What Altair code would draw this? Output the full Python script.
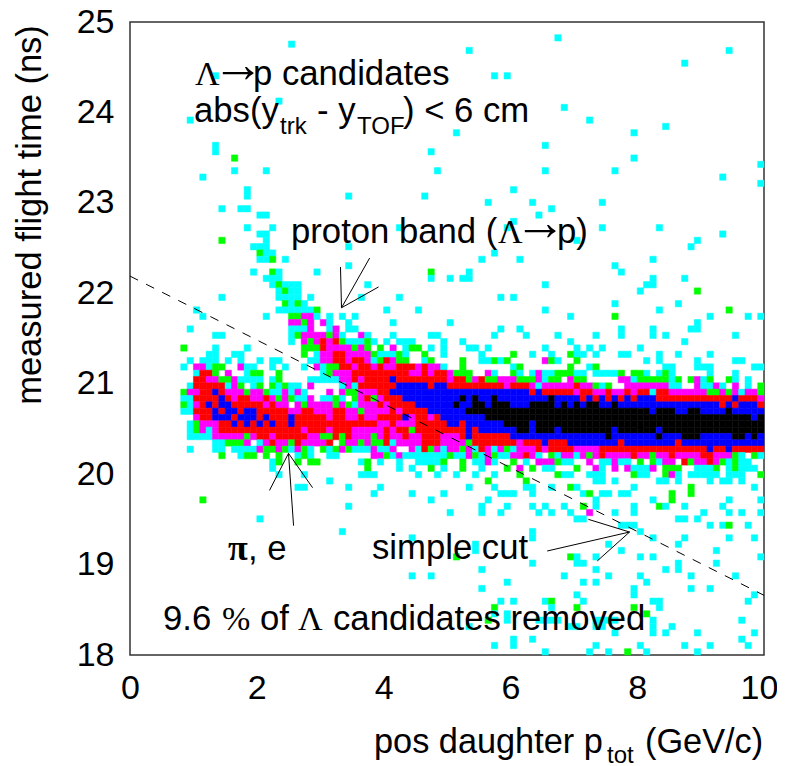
import altair as alt
import pandas as pd

ROWS = {
2:"67c",3:"25c",4:"53c 94c",6:"87c",8:"13c 57c 59c",12:"23c",13:"68c",15:"9c 72c",16:"84c",17:"51c 79c",
19:"13c 65c",20:"13c 47c",21:"16g 79c",22:"99c",23:"16c 21c 48c 65c 76c",24:"11c 93c",25:"99c",26:"18c 60c",
27:"18c 34c 46c",28:"56c 63c 74c",29:"14c 17-18c 66c",30:"20-21c 64c",31:"60c",32:"18c 22c 42c 59c 74c 83c",
33:"20-21c 93c",34:"14g 21c 70c 89c",35:"19-21c 34c 88c",36:"20g 21-22c 57c",37:"20-21c 22g 24c 55c 61c 82c",
38:"34c 76c",39:"19c 22g 23c 29c 47g 53c 77c",40:"21-23c 47c 50c 52-53c 82c 87c",41:"22c 23g 24-26c 37c 65c 81-82c",
42:"23c 24g 25-26c 80c 89g",43:"14c 23-26c 28c 36c 42c 58c 60c",44:"24g 25c 26g 27c 76c 86c",
45:"10c 23-28c 29g 40c 45c 65c 83c 94g",46:"11c 21c 25-26g 27-28m 29c 31c 33c 35c 69c 76g 91c 97c 99c",
47:"25-26m 27g 28m 30m 31c 34c 41c 50c 89c",48:"9c 25-27c 28m 31c 32m 34-35c 58c 61c 77c 82c 88-89c",
49:"13-14c 25c 26g 27-30m 31g 32m 33c 36m 37c 41c 47-48c 57c 62c 67c 73c 77c 82c 84c 95c",
50:"25c 27m 28g 29m 30r 31m 32r 33g 34-36c 37g 38c 40c 42-44c 49c 52c 69c 87c",
51:"8g 13c 18c 27-29g 30r 31-34m 35g 36m 37g 39g 41m 43c 44-45g 47c 49c 53-54c 56c 65c 70c 72c 74c 80c",
52:"12-13c 16-17c 27g 29c 30-31m 32-33r 34-37m 38g 39-41c 42g 43c 46g 49c 55c 60g 63c 66c 69g 70-71c 73c 77-78c 83c 86c 91c",
53:"9c 11-13c 15c 17c 20c 22-23c 28-29c 30-31m 32-33r 34m 35-36r 37m 38c 39g 40r 41m 42-43g 46c 47g 52g 55-56c 57g 58c 59g 65m 66g 67c 70g 81c 83c 89c 95-96c",
54:"8c 10-11m 12c 13-14g 17m 18-19c 22c 24c 27c 29m 30c 31-32g 33-34r 35m 36-37r 38m 39r 40-41m 42-44r 45m 46r 47-48m 49c 52g 60c 61g 69g 72c 73g 84-85c 89-91c 98-99c",
55:"10c 11-12r 13g 15m 18c 19-20g 23g 30c 31g 32-34m 35-43r 44-45m 46r 47m 48-49r 50m 51-53g 56m 57c 60g 61c 63c 64m 65-66c 67-69g 70-71c 73-76c 77g 79-80g 81c 83c 84g 85c 91c 95c",
56:"10-11r 12-13m 14-15g 16m 17-20c 22c 23g 28-32c 33-34m 35r 36m 37-40r 41b 42-49r 50m 51-52r 53g 54m 55r 56-57g 58-60m 61-63g 64m 65c 66-67g 69m 70-71g 77-78m 79c 80-84g 85c 86g 88g 89m 90c 91g 94g 95c 97c",
57:"9c 10-14r 15c 16m 17g 19c 20g 22g 23c 24g 25-26c 28m 33c 34m 35c 36-41r 42-46b 47r 48-49b 50-58r 59m 60-62r 63m 64c 65-69m 70r 71-72m 73g 74c 75g 78-84m 85-86c 89m 90-91c 92m 93c 95m 97c 99g",
58:"8g 9-10m 11-12r 13b 14r 15-17m 18g 19-20m 21g 22-23c 24m 25c 26m 27c 31m 33m 34-35g 36-38m 39-40r 41-62b 63r 64b 65-69r 70m 71-72r 73-74m 75r 76-77m 78r 79m 80-81r 82c 83-84r 85-90m 91-92g 93m 94g 95m 96c 97-98m 99g",
59:"8-9c 10-13r 14b 15r 16m 17-18r 19-20m 21r 22m 23g 24m 25g 26-27c 28m 30-31c 32g 33c 35g 36m 37r 38g 39m 40-42r 43-51b 52k 53b 54k 55-56b 57k 58-65b 66k 67-70b 71r 72b 73r 74b 75r 76b 77r 78b 79r 80-82b 83-94r 95b 96-98r 99m",
60:"8g 9c 10m 11r 12b 13r 14-15b 16-20r 21m 22r 23-24m 26m 27g 28-31m 32g 33m 34g 35c 36-38m 39r 40m 41-44r 45-50b 51k 52-53b 54-55k 56b 57-59k 60-62b 63-66k 67b 68k 69b 70k 71b 72-73k 74-75b 76k 77-92b 93r 94b 95r 96-98b 99r",
61:"8-9c 10-12r 13b 14r 15-16b 17r 18-19b 20-24r 25-26m 27-28r 29-31m 32-33r 34-35m 36g 37-40m 41r 42m 43-46r 47-52b 53-81k 82b 83-85k 86-87b 88-89k 90-93b 94k 95-99b",
62:"10m 11-12r 13-15b 16r 17-19b 20r 21b 22-24r 25b 26-30r 31m 32-33r 34-35m 36r 37-38m 39-42r 43b 44m 45-46r 47m 48r 49-55b 56-97k 98b 99k",
63:"9c 10g 11-13m 14-15r 16b 17r 18b 19r 20b 21r 22b 23-24r 25b 26-38r 39-40m 41r 42-44m 45-49r 50-51b 52r 53-58b 59-62k 63b 64-99k",
64:"9c 10g 11m 12c 13m 14-26r 27m 28-30r 31m 32-34r 35-39m 40r 41m 42-43r 44g 45-52r 53b 54r 55-60b 61-62k 63b 64-66k 67b 68-75k 76b 77-82k 83b 84-99k",
65:"9-12c 13-17m 18g 19m 20-21r 22m 23-27r 28-29m 30-31g 32r 33g 34r 35-37m 38g 39m 40r 41-42m 43r 44-45m 46-48r 49-51m 52r 53b 54-59r 60-74b 75k 76-82b 83k 84-86b 87-89k 90-94b 95-96k 97b 98k 99b",
66:"13-14c 15-17g 18m 20c 21m 22r 23-24m 25g 26r 27-30m 31r 33g 34-35m 36g 37m 38-39g 40r 41c 42-45m 46-48r 49-52m 53g 54-60r 61m 62-64r 65b 66-68r 69-76b 77r 78-85b 86r 87-99b",
67:"9c 13-14c 16-19c 20m 21-22g 23m 24g 25c 26m 27g 28c 30g 31c 32g 33m 34g 35-37c 38m 39-40c 41m 44m 45c 46r 47g 48m 49c 50-51m 52g 53m 54c 55r 56m 57c 58m 59g 60c 61-63m 64r 65m 66-69r 70-73m 74-90r 91b 92-93r 94b 95-99r",
68:"14g 17c 18-19g 21g 23g 26c 27g 28c 31-32c 38-39m 40g 41c 42m 43-49c 50g 51-52c 53m 54g 55c 56m 57g 58-59c 60-61m 62r 63m 64c 66g 67c 68-69m 70c 71m 72g 73m 74r 75-78m 79r 80-81m 82g 83-84m 85r 86-89m 90-91r 92-94m 95g 96c 98g 99c",
69:"22c 23g 26g 28-29g 36c 37g 39c 42c 45-48c 49g 52g 54-55c 56m 57c 60g 62c 64-66m 67g 68-69c 72m 74-75c 76m 77-78c 80g 82g 83c 84-85m 87r 88g 89-90m 91r 92m 93g 94c 95g 96-97c",
70:"22c 37g 42c 44c 47g 49c 52g 55c 59g 61m 63g 65-66c 70g 73m 74c 76m 78m 79-81c 82m 84-86g 89-91c 92g 94c 95g 96-98c",
71:"23c 27c 36-38c 45c 48c 51c 54c 57c 61g 67g 68-69c 72-74c 79g 80-81c 84g 85m 86c 88-92c 94-96c 99g",
72:"31c 56g 62g 73-74c 76c 83-84c 86c 91c 93-94c 96c",
73:"26-27c 34c 39c 53c 57c 62-63c 66c 69g 70c 79c 88g 98c",
74:"38c 44c 49c 58-60c 63c 71c 72g 74-75c 77-78c 85g 88g",
75:"11g 47c 56c 73c 82c 85g 94c 99c",
76:"34c 55c 59c 63c 65c 68c 71g 73c 79c 83g 84c 87c 93c",
77:"50c 55c 58c 64c 66c 69c 72m 76c 79c 90c 94c 96c 99c",
78:"20c 70-71c 86-87c 89c",79:"77-79c 91c 93c 94g 97c",80:"33c 63c 80c",81:"44c 63c 82c 87c 94c 98c",
82:"54c 75c 86c",83:"54c 77c 92c",84:"51g 69g 70c 73c 80c 82c 99c",85:"63c 70-71c 86c 92c",
86:"55c 73c 84c 86c",87:"44c 47c 68c 75c 80c 88c 95c",88:"59c 71c 73c 81c",89:"55c 79c 88c 91c",
90:"70c 79c 98c",91:"58c 60c 65c 66g 71c 82-83c 97c",92:"57g 66c 70g 79g 83c",93:"57c 59c 81g",
94:"56g 59c 64-67c 73-76c 82c 96c",95:"53c 69-70c 73-74c 82c 85c",96:"76c 82c 84c 89c 98c",97:"60c 63c 96c",
98:"57c 60c 73c 80c 87c 91c 97c",99:"65c 72c 75c 78g 81c 89c",
}
LEVELS = ["c", "g", "m", "r", "b", "k"]
COLORS = ["#00ffff", "#00ff00", "#ff00ff", "#ff0000", "#0000ff", "#000000"]
XBIN, YBIN, YTOP = 0.1, 0.07, 25.0

cells = []
for row, spec in ROWS.items():
    for tok in spec.split():
        lev, rng = tok[-1], tok[:-1].split("-")
        for col in range(int(rng[0]), int(rng[-1]) + 1):
            cells.append(dict(x0=col * XBIN, x1=(col + 1) * XBIN,
                              y1=YTOP - row * YBIN, y0=YTOP - (row + 1) * YBIN, level=lev))
cells = pd.DataFrame(cells)

W, H = 634, 633
xs = alt.Scale(domain=[0, 10], nice=False, zero=False)
ys = alt.Scale(domain=[18, 25], nice=False, zero=False)
lev_scale = alt.Scale(domain=LEVELS, range=COLORS)

heat = alt.Chart(cells).mark_rect(strokeWidth=0.5).encode(
    x=alt.X("x0:Q", scale=xs, title=None,
            axis=alt.Axis(values=[0, 2, 4, 6, 8, 10], ticks=False, domain=False, grid=False,
                          labelFontSize=34, labelFont="Liberation Sans", labelColor="black",
                          labelPadding=16, labelFlush=False, labelOverlap=False, format="d",
                          labelOffset={"condition": {"test": "datum.value == 10", "value": -5}, "value": 0})),
    x2="x1:Q",
    y=alt.Y("y0:Q", scale=ys, title=None,
            axis=alt.Axis(values=list(range(18, 26)), ticks=False, domain=False, grid=False,
                          labelFontSize=34, labelFont="Liberation Sans", labelColor="black",
                          labelPadding=16, labelFlush=False, labelOverlap=False, format="d")),
    y2="y1:Q",
    color=alt.Color("level:N", scale=lev_scale, legend=None),
    stroke=alt.Stroke("level:N", scale=lev_scale, legend=None),
)

cut = alt.Chart(pd.DataFrame({"x": [0, 10], "y": [22.19, 18.66]})).mark_line(
    color="black", strokeWidth=1, strokeDash=[9, 9]).encode(
    x=alt.X("x:Q", scale=xs), y=alt.Y("y:Q", scale=ys))

arrows = pd.DataFrame([
    (3.336, 21.84, 3.32, 22.29), (3.336, 21.84, 3.78, 22.39), (3.336, 21.84, 3.92, 22.07),
    (2.50, 20.23, 2.20, 19.82), (2.50, 20.23, 2.58, 19.43), (2.50, 20.23, 2.88, 19.85),
    (7.88, 19.36, 6.58, 19.15), (7.88, 19.36, 7.23, 19.50), (7.88, 19.36, 7.37, 19.04),
], columns=["xa", "ya", "xb", "yb"])
arrow_marks = alt.Chart(arrows).mark_rule(color="black", strokeWidth=1).encode(
    x=alt.X("xa:Q", scale=xs), y=alt.Y("ya:Q", scale=ys), x2="xb:Q", y2="yb:Q")

SANS = "Liberation Sans"
SERIF = "Liberation Serif"
LEFT = 130
TOP = 22
# text, page x, page y of baseline, size, font, weight
TEXTS = [
    ("\u039b", 195, 85, 34, SERIF, "normal"), ("\u2192", 212, 82, 52, SERIF, "normal"),
    ("p candidates", 253, 85, 34.7, SANS, "normal"),
    ("abs(y", 194, 122, 34.7, SANS, "normal"), ("trk", 280, 134, 24, SANS, "normal"),
    ("- y", 317, 122, 34.7, SANS, "normal"),
    ("TOF", 357, 134, 24, SANS, "normal"), (") < 6 cm", 403, 122, 34.7, SANS, "normal"),
    ("proton band (", 291, 243, 34.7, SANS, "normal"), ("\u039b", 498, 243, 34, SERIF, "normal"),
    ("\u2192", 514, 240, 52, SERIF, "normal"), ("p)", 557, 243, 34.7, SANS, "normal"),
    ("\u03c0", 228, 560, 36, SERIF, "bold"), (", e", 248, 560, 34.7, SANS, "normal"),
    ("simple cut", 372, 559, 34.7, SANS, "normal"),
    ("9.6", 163, 630, 34.7, SANS, "normal"), ("%", 222, 630, 34, SERIF, "normal"),
    ("of", 260, 630, 34.7, SANS, "normal"),
    ("\u039b", 298, 630, 34, SERIF, "normal"), ("candidates removed", 333, 630, 34.7, SANS, "normal"),
    ("pos daughter p", 374, 753, 34.3, SANS, "normal"), ("tot", 607, 763, 24, SANS, "normal"),
    ("(GeV/c)", 645, 753, 34.3, SANS, "normal"),
]
layers = []
for txt, px, py, size, font, weight in TEXTS:
    d = pd.DataFrame({"t": [txt], "px": [px - LEFT], "py": [py - TOP]})
    layers.append(alt.Chart(d).mark_text(align="left", baseline="alphabetic", fontSize=size, font=font,
                                         fontWeight=weight, color="black").encode(
        x=alt.X("px:Q", scale=None), y=alt.Y("py:Q", scale=None), text="t:N"))

ytitle = alt.Chart(pd.DataFrame({"t": ["measured flight time (ns)"], "px": [41 - LEFT], "py": [215 - TOP]})).mark_text(
    align="center", baseline="alphabetic", angle=270, fontSize=34.5, font=SANS, color="black").encode(
    x=alt.X("px:Q", scale=None), y=alt.Y("py:Q", scale=None), text="t:N")

chart = alt.layer(heat, cut, arrow_marks, *layers, ytitle).properties(
    width=W, height=H,
    autosize=alt.AutoSizeParams(type="none"),
    padding={"left": 122, "top": 14, "right": 13, "bottom": 110},
).configure_view(stroke="#333333", strokeWidth=1.5)

chart.save("out.html", embed_options={"renderer": "svg", "actions": False})
